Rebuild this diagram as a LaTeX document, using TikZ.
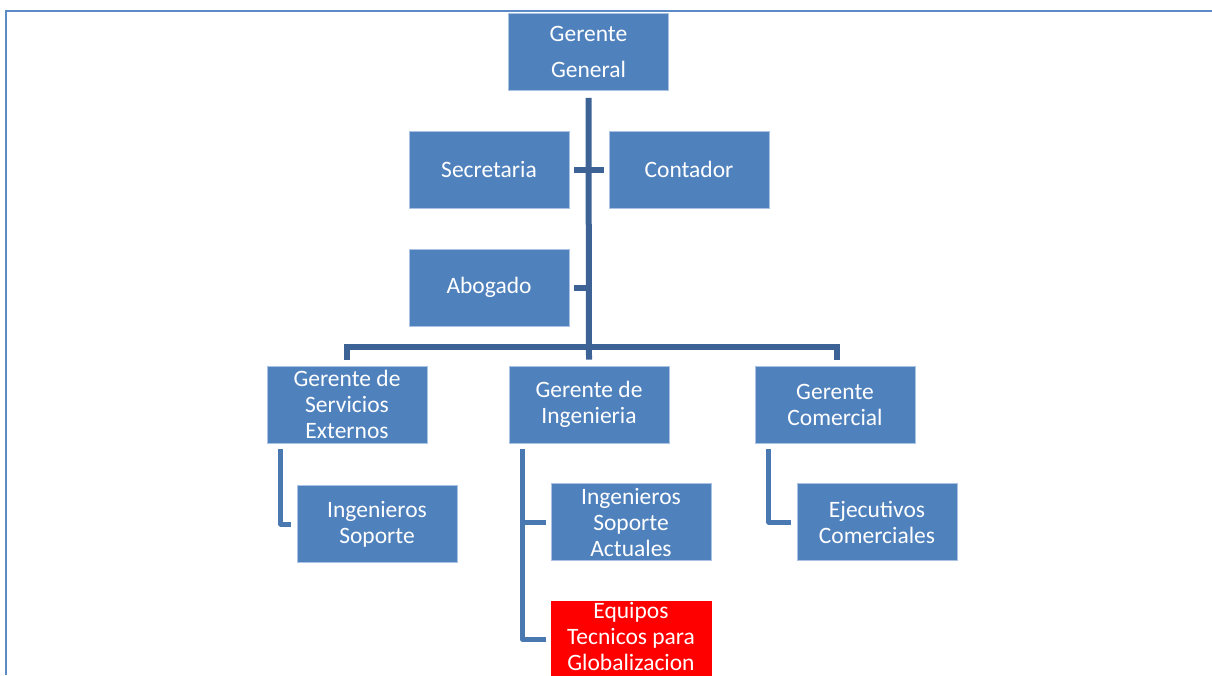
\documentclass[tikz,border=0pt]{standalone}
\usepackage{fontspec}
\setmainfont{Carlito}
\usetikzlibrary{calc}
\definecolor{boxblue}{RGB}{79,129,189}
\definecolor{boxedge}{RGB}{170,195,228}
\definecolor{linkdark}{RGB}{61,99,150}
\definecolor{linklight}{RGB}{74,120,177}
\definecolor{framecol}{RGB}{91,138,198}
\definecolor{alertred}{RGB}{255,0,0}
\tikzset{
  x=1pt, y=-1pt,
  unit/.style={rectangle, fill=boxblue, draw=boxedge, line width=0.7pt,
    minimum width=160pt, minimum height=77pt, inner sep=0pt,
    align=center, text=white,
    font=\fontsize{23.5}{26}\selectfont},
  hotunit/.style={unit, fill=alertred, draw=alertred},
  mainlink/.style={draw=linkdark, line width=6pt},
  sublink/.style={draw=linklight, line width=5pt, line join=round}
}
\begin{document}
\begin{tikzpicture}
\useasboundingbox (0,0) rectangle (1212,675);
% page frame
\draw[framecol, line width=2pt] (5.5,675) -- (5.5,10.5) -- (1212,10.5);

% boxes
\node[unit] (gg)  at (588.5,52)  {Gerente\\[10pt]General};
\node[unit] (sec) at (489,169.5) {Secretaria};
\node[unit] (con) at (689,169.5) {Contador};
\node[unit] (abo) at (489,287.5) {Abogado};
\node[unit] (gse) at (347,404.5) {Gerente de\\Servicios\\Externos};
\node[unit] (gin) at (589,404.5) {Gerente de\\Ingenieria};
\node[unit] (gco) at (835,404.5) {Gerente\\Comercial};
\node[unit] (ins) at (377,524)   {Ingenieros\\Soporte};
\node[unit] (isa) at (631,522)   {Ingenieros\\Soporte\\Actuales};
\node[hotunit] (eqt) at (631,639.5) {Equipos\\Tecnicos para\\Globalizacion\rule[-7pt]{0pt}{7pt}};
\node[unit] (eje) at (877,522)   {Ejecutivos\\Comerciales};

% upper hierarchy
\draw[mainlink] ([yshift=-7pt]gg.south) -- ([yshift=6pt]gin.north);
\draw[mainlink] ([xshift=5pt]sec.east) -- ([xshift=-5pt]con.west);
\draw[mainlink] ([xshift=5pt]abo.east) -- (abo.east -| gg.south);
\draw[mainlink] ([yshift=6pt]gse.north) -- ++(0,-13) -| ([xshift=2pt,yshift=6pt]gco.north);

% lower hierarchy
\draw[sublink] ([xshift=14pt,yshift=-6pt]gse.south west) |- ([xshift=-6pt]ins.west);
\draw[sublink] ([xshift=14pt,yshift=-6pt]gin.south west) |- ([xshift=-5pt]eqt.west);
\draw[sublink] ([xshift=14pt]gin.south west |- isa.west) -- ([xshift=-5pt]isa.west);
\draw[sublink] ([xshift=14pt,yshift=-6pt]gco.south west) |- ([xshift=-6pt]eje.west);
\end{tikzpicture}
\end{document}
